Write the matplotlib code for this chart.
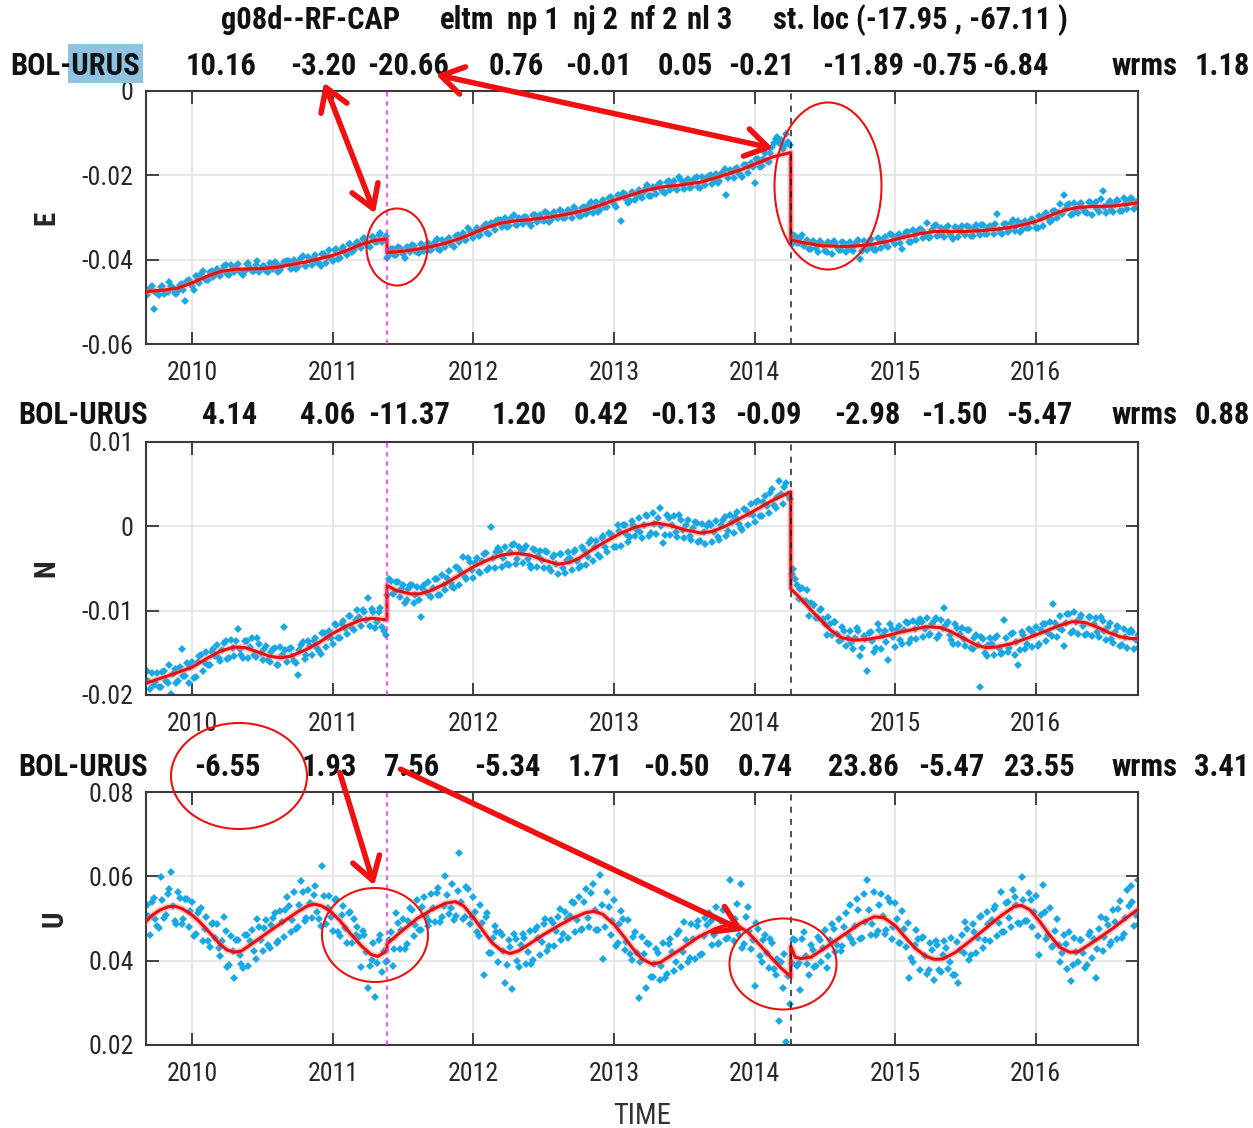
import numpy as np
import matplotlib
matplotlib.use('Agg')
import matplotlib.pyplot as plt
from matplotlib import font_manager as fm
from matplotlib.patches import Ellipse, FancyArrowPatch, Rectangle

W, H = 1253, 1128

# GPS solutions, one sample every 0.025 yr from 2009.675 (mm); a second set sits half a step later
e_obs = [-48.3, -46.9, -51.6, -47.9, -46.6, -48.2, -47.6, -46.2, -47.9, -47.4, -45.8, -49.8, -44.9, -46.3, -43.9, -45.6, -42.8, -44.9, -42.9, -44.1,
         -42.1, -43.9, -41.6, -43.4, -41.2, -42.9, -41.0, -43.1, -42.6, -40.9, -42.8, -41.3, -43.0, -41.5, -42.7, -40.8, -42.3, -41.1, -42.4, -40.6,
         -40.4, -42.2, -40.1, -41.8, -39.7, -41.5, -39.4, -41.2, -38.9, -40.7, -38.6, -40.9, -37.8, -40.4, -37.5, -39.6, -37.1, -38.9, -36.2, -37.8,
         -35.7, -37.3, -34.9, -36.6, -34.6, -35.9, -34.2, -35.8, -34.4, -38.9, -37.4, -38.8, -37.3, -38.6, -36.9, -38.2, -36.8, -38.1, -36.4, -37.9,
         -36.1, -37.8, -35.9, -37.4, -35.4, -37.0, -34.8, -36.6, -34.3, -35.8, -33.6, -35.4, -33.1, -34.8, -32.6, -34.1, -32.0, -33.6, -31.2, -32.9,
         -30.6, -32.3, -30.2, -31.9, -29.9, -31.7, -30.0, -31.5, -29.8, -31.3, -29.4, -31.1, -29.3, -30.8, -28.9, -30.6, -28.7, -30.2, -28.5, -30.1,
         -28.3, -30.1, -27.9, -29.6, -27.8, -29.2, -27.1, -28.9, -26.4, -28.3, -25.8, -27.6, -25.2, -26.9, -24.6, -30.8, -24.4, -26.6, -23.9, -25.8,
         -23.5, -25.3, -22.9, -24.8, -22.7, -24.5, -21.8, -23.9, -21.6, -23.4, -21.3, -23.5, -21.1, -23.2, -20.9, -22.8, -20.6, -22.7, -20.4, -22.3,
         -20.1, -22.0, -19.6, -21.4, -19.3, -24.6, -18.7, -20.6, -18.2, -19.9, -17.6, -19.4, -17.0, -21.8, -16.2, -17.9, -14.8, -16.9, -13.2, -11.4,
         -12.3, -13.8, -10.2, -12.9, -34.2, -36.1, -34.9, -36.8, -35.3, -37.4, -35.8, -38.2, -36.0, -37.9, -35.7, -38.6, -36.1, -37.8, -35.9, -38.1,
         -35.7, -38.0, -35.9, -39.8, -35.6, -37.8, -35.2, -37.6, -34.8, -37.2, -34.6, -36.9, -34.2, -36.4, -33.8, -37.5, -33.4, -35.9, -32.9, -35.4,
         -32.8, -34.9, -31.4, -34.6, -32.1, -34.5, -32.4, -34.7, -32.0, -34.4, -32.2, -34.6, -31.9, -34.1, -32.3, -34.5, -31.8, -34.2, -31.7, -34.0,
         -31.9, -33.8, -29.1, -33.6, -31.5, -33.4, -31.2, -33.3, -30.9, -33.0, -30.8, -32.6, -30.3, -32.4, -29.7, -32.0, -28.9, -31.1, -28.4, -30.2,
         -26.9, -24.6, -27.0, -29.3, -26.5, -28.9, -26.6, -28.7, -26.4, -29.4, -26.3, -28.8, -23.6, -28.9, -26.2, -28.7, -25.9, -28.5, -25.3, -28.0,
         -25.4, -27.9, -26.1]
e_obs_b = [-47.2, -46.2, -47.6, -48.4, -46.3, -47.6, -45.4, -46.8, -48.2, -46.0, -47.2, -45.1, -45.6, -47.1, -44.6, -43.5, -44.7, -44.9, -42.8, -43.3,
           -43.6, -42.7, -41.3, -43.7, -42.4, -41.4, -42.6, -43.7, -41.1, -41.9, -42.8, -40.4, -42.3, -41.5, -43.0, -41.5, -40.6, -43.0, -41.5, -40.5,
           -40.3, -41.5, -42.2, -40.4, -39.2, -41.4, -40.1, -39.5, -40.6, -41.5, -38.7, -39.4, -39.7, -37.8, -39.8, -37.8, -38.2, -36.2, -38.1, -36.6,
           -36.2, -35.1, -36.3, -36.9, -34.7, -35.8, -33.6, -35.1, -39.7, -37.5, -38.9, -37.1, -37.8, -39.5, -37.3, -36.5, -37.9, -38.4, -36.5, -37.2,
           -37.6, -36.6, -35.2, -37.7, -36.3, -35.3, -36.2, -37.0, -34.1, -34.6, -35.3, -32.6, -34.2, -33.1, -34.4, -32.7, -31.6, -33.8, -32.0, -30.9,
           -30.5, -31.5, -32.3, -30.5, -29.4, -31.7, -30.5, -29.9, -31.1, -32.1, -29.4, -30.1, -30.5, -28.7, -31.0, -29.2, -29.9, -28.2, -30.2, -29.0,
           -28.7, -27.6, -28.9, -29.7, -27.5, -28.7, -26.3, -27.5, -28.7, -26.3, -27.5, -25.4, -25.9, -27.4, -25.2, -24.3, -25.7, -26.1, -24.1, -24.8,
           -25.0, -23.9, -22.4, -24.8, -23.3, -22.2, -23.2, -24.1, -21.4, -22.1, -23.0, -20.5, -22.3, -21.4, -22.9, -21.4, -20.5, -22.9, -21.4, -20.3,
           -20.0, -21.0, -21.7, -19.8, -18.5, -20.7, -19.3, -18.5, -19.6, -20.4, -17.5, -17.9, -18.1, -16.1, -18.1, -16.1, -16.5, -14.6, -12.4, -10.8,
           -11.6, -13.1, -12.2, -36.4, -34.5, -36.1, -34.2, -35.8, -37.5, -35.5, -37.2, -35.5, -36.5, -38.3, -36.3, -35.6, -37.1, -37.8, -36.1, -37.0,
           -37.4, -36.6, -35.3, -37.9, -36.6, -35.7, -36.9, -37.8, -35.0, -35.6, -36.5, -33.9, -35.6, -34.6, -36.1, -34.5, -33.5, -35.8, -34.2, -33.3,
           -33.0, -34.1, -34.9, -33.0, -31.8, -34.2, -33.1, -32.6, -33.9, -35.0, -32.4, -33.2, -33.7, -32.0, -34.4, -32.6, -33.3, -31.7, -33.8, -32.6,
           -32.5, -31.5, -32.9, -33.8, -31.6, -32.9, -30.7, -32.1, -33.5, -31.2, -32.5, -30.5, -31.0, -32.5, -30.1, -29.1, -30.2, -30.5, -28.4, -29.0,
           -29.2, -28.0, -26.7, -29.2, -27.9, -26.9, -28.0, -29.0, -26.3, -27.1, -28.1, -25.7, -27.6, -26.7, -28.3, -26.9, -26.0, -28.4, -26.9, -25.9,
           -25.7, -26.9, -27.7]

n_obs = [-17.2, -19.3, -18.8, -17.4, -19.1, -17.2, -18.6, -19.9, -16.9, -18.3, -14.5, -17.8, -18.6, -16.1, -17.9, -15.4, -17.2, -14.9, -16.4, -14.6,
         -14.1, -16.0, -13.8, -15.7, -13.5, -15.4, -12.2, -15.3, -13.6, -15.6, -13.3, -15.5, -14.0, -15.9, -14.2, -16.1, -14.6, -16.4, -14.3, -11.9,
         -16.1, -14.4, -16.0, -17.6, -14.1, -15.7, -13.6, -15.2, -13.3, -14.8, -12.7, -14.3, -12.4, -13.9, -11.7, -13.3, -11.2, -12.8, -10.6, -12.3,
         -9.9, -11.8, -10.1, -8.5, -9.8, -12.0, -10.2, -11.9, -12.9, -6.3, -8.0, -6.6, -8.4, -6.9, -8.7, -7.0, -9.1, -7.2, -10.7, -6.9,
         -6.6, -8.4, -6.2, -8.1, -5.8, -7.6, -5.3, -7.2, -4.8, -6.9, -3.6, -6.3, -4.2, -6.1, -3.7, -5.5, -3.3, -5.2, -0.1, -4.9,
         -2.6, -4.8, -2.4, -4.6, -2.2, -4.5, -2.5, -4.3, -2.3, -4.6, -2.7, -4.8, -2.9, -5.0, -3.1, -5.3, -3.4, -5.6, -3.3, -5.5,
         -3.0, -5.2, -2.8, -5.0, -2.4, -4.6, -2.0, -4.1, -1.7, -3.6, -1.1, -3.1, -0.9, -2.5, 0.1, -2.3, 0.2, -1.8, 0.6, -1.2,
         1.0, -1.4, 1.3, -1.1, 1.6, -0.9, 2.2, -2.0, 1.4, -1.0, 1.2, -1.3, 0.8, -1.4, 0.7, -1.6, 0.5, -1.8, 0.3, -2.1,
         0.4, -1.9, 0.6, -1.6, 0.8, -1.2, 1.3, -0.8, 1.7, -0.2, 2.0, 0.1, 2.6, 0.5, 3.0, 1.2, 3.6, 1.6, 4.4, 2.2,
         5.4, 2.6, 5.1, 3.2, -5.1, -6.9, -7.4, -8.8, -7.6, -9.1, -9.3, -10.9, -9.8, -11.6, -10.7, -12.9, -11.4, -13.6, -11.9, -14.2,
         -12.4, -14.6, -12.1, -15.4, -13.0, -17.2, -12.5, -14.9, -11.6, -14.6, -12.4, -15.9, -12.2, -14.3, -11.8, -13.9, -11.4, -13.8, -11.2, -13.4,
         -11.0, -13.1, -10.9, -12.8, -11.2, -13.3, -11.1, -9.7, -11.4, -13.5, -11.6, -13.9, -12.0, -14.2, -12.3, -14.6, -12.9, -19.0, -13.4, -15.4,
         -13.2, -15.3, -13.0, -15.1, -11.1, -14.9, -12.8, -15.2, -16.4, -12.5, -14.6, -12.2, -14.3, -11.9, -14.0, -11.6, -13.6, -11.3, -9.2, -13.1,
         -10.6, -14.2, -10.4, -12.6, -10.2, -12.8, -10.5, -12.9, -10.7, -13.0, -10.9, -13.1, -11.2, -13.5, -11.5, -13.8, -11.8, -14.2, -12.2, -14.4,
         -12.3, -14.5, -12.9]
n_obs_b = [-18.3, -17.4, -18.5, -19.0, -17.3, -18.3, -16.4, -17.5, -18.6, -16.7, -17.8, -16.2, -16.7, -18.0, -16.1, -15.2, -16.2, -16.5, -14.9, -15.4,
           -15.6, -14.7, -13.6, -15.6, -14.4, -13.6, -14.6, -15.6, -13.6, -14.3, -15.2, -13.3, -15.0, -14.5, -15.9, -14.9, -14.4, -16.5, -15.3, -14.7,
           -14.5, -15.4, -16.2, -14.7, -13.7, -15.3, -14.2, -13.6, -14.4, -15.1, -12.7, -13.1, -13.2, -11.6, -13.3, -11.6, -12.1, -10.6, -12.1, -11.1,
           -10.8, -9.9, -11.1, -11.8, -10.2, -11.3, -9.7, -12.4, -8.1, -6.5, -7.9, -6.6, -7.4, -9.1, -7.45, -6.9, -8.15, -8.7, -7.3, -7.8,
           -8.1, -7.3, -6.2, -8.2, -6.9, -6.1, -6.7, -7.3, -5.0, -5.4, -6.0, -3.8, -5.2, -4.3, -5.4, -4.1, -3.2, -5.0, -3.8, -3.1,
           -2.9, -3.8, -4.5, -3.0, -2.1, -3.9, -3.1, -2.7, -3.9, -4.9, -2.8, -3.5, -4.0, -2.9, -4.9, -3.6, -4.5, -3.3, -4.9, -4.0,
           -3.8, -3.0, -4.1, -4.7, -2.8, -3.6, -1.6, -2.5, -3.4, -1.4, -2.4, -0.8, -1.2, -2.5, -0.6, 0.2, -0.9, -1.3, 0.2, -0.4,
           -0.7, 0.2, 1.2, -0.8, 0.3, 1.0, 0.0, -1.0, 1.0, 0.2, -0.7, 1.3, -0.4, 0.2, -1.2, -0.2, 0.4, -1.7, -0.7, 0.0,
           0.2, -0.7, -1.3, 0.2, 1.1, -0.6, 0.5, 1.1, 0.3, -0.4, 1.9, 1.5, 1.4, 2.9, 1.2, 2.9, 2.4, 3.9, 2.5, 3.5,
           3.8, 4.7, 3.7, -5.6, -6.2, -8.6, -7.3, -8.9, -10.6, -9.3, -10.9, -9.9, -11.0, -12.9, -11.6, -11.4, -12.8, -13.5, -12.4, -13.3,
           -13.8, -13.2, -12.4, -14.4, -13.4, -12.7, -13.6, -14.4, -12.3, -12.9, -13.7, -11.6, -13.1, -12.3, -13.5, -12.3, -11.5, -13.4, -12.2, -11.5,
           -11.3, -12.2, -12.9, -11.6, -10.9, -12.9, -12.0, -11.7, -12.9, -13.9, -12.0, -12.8, -13.4, -12.3, -14.4, -13.2, -14.1, -13.1, -15.0, -14.1,
           -14.0, -13.2, -14.4, -15.0, -13.3, -14.4, -12.6, -13.7, -14.7, -12.9, -13.9, -12.4, -12.8, -14.2, -12.3, -11.6, -12.6, -13.0, -11.5, -12.1,
           -12.3, -11.5, -10.4, -12.4, -11.4, -10.9, -11.8, -12.8, -10.8, -11.6, -12.5, -10.7, -12.4, -11.9, -13.4, -12.5, -11.9, -14.1, -13.1, -12.5,
           -12.5, -13.5, -14.3]

u_obs = [53.1, 46.2, 54.8, 48.3, 59.8, 50.1, 55.7, 61.1, 49.4, 56.3, 48.6, 54.7, 47.9, 53.8, 46.4, 52.1, 44.7, 50.3, 43.2, 48.9,
         48.6, 41.2, 50.3, 38.4, 45.9, 35.9, 44.8, 39.1, 46.2, 38.7, 47.3, 40.5, 48.1, 42.2, 49.6, 43.0, 50.2, 44.1, 51.8, 45.6,
         55.2, 46.8, 56.4, 48.1, 58.9, 49.3, 56.7, 50.2, 57.8, 49.9, 62.4, 48.7, 55.3, 47.1, 54.6, 45.8, 52.9, 44.2, 51.6, 49.8,
         47.9, 38.6, 46.1, 33.6, 40.2, 31.3, 44.8, 37.4, 39.6, 44.9, 38.8, 51.2, 42.7, 49.8, 43.9, 52.6, 45.8, 54.3, 47.2, 55.1,
         48.3, 55.9, 49.1, 57.2, 50.4, 60.1, 51.0, 58.3, 50.6, 65.5, 49.8, 57.4, 48.6, 55.1, 46.9, 53.3, 36.7, 51.2, 41.9, 48.3,
         39.8, 46.2, 34.6, 44.8, 33.2, 45.1, 38.4, 46.3, 39.2, 47.0, 40.1, 47.9, 41.3, 48.6, 42.2, 49.7, 43.4, 50.3, 44.8, 51.6,
         45.3, 53.8, 46.7, 55.2, 47.4, 56.9, 48.0, 58.1, 47.2, 60.2, 40.3, 56.4, 46.1, 54.3, 44.2, 51.8, 42.6, 49.7, 40.1, 46.8,
         31.2, 45.6, 33.4, 43.9, 36.2, 42.8, 35.4, 44.1, 36.9, 45.2, 37.6, 46.3, 38.4, 49.2, 39.7, 48.6, 40.3, 49.5, 41.6, 50.1,
         51.2, 43.6, 52.8, 44.1, 51.9, 45.2, 59.1, 44.6, 53.4, 58.2, 43.9, 52.7, 42.8, 33.9, 47.6, 39.8, 46.1, 38.2, 44.3, 36.7,
         25.6, 33.4, 20.6, 29.8, 45.2, 38.7, 33.1, 46.9, 39.2, 43.8, 38.4, 45.6, 39.7, 47.3, 41.1, 48.6, 42.0, 49.9, 43.4, 51.2,
         53.1, 44.2, 54.6, 45.1, 55.8, 59.1, 46.2, 56.3, 47.1, 55.9, 46.4, 54.8, 45.2, 53.6, 44.1, 51.7, 43.2, 35.9, 39.6, 47.3,
         37.8, 45.6, 36.9, 44.2, 35.4, 43.8, 37.2, 44.6, 38.1, 45.3, 36.7, 34.7, 46.1, 49.2, 40.1, 48.7, 41.8, 50.3, 42.9, 51.6,
         44.6, 52.3, 45.8, 56.4, 46.7, 53.9, 48.1, 55.2, 48.9, 59.8, 49.3, 56.1, 47.9, 55.3, 41.4, 58.0, 45.2, 52.6, 43.4, 49.8,
         39.8, 46.2, 38.1, 35.1, 45.3, 39.6, 44.8, 38.2, 46.1, 40.7, 35.9, 47.6, 42.3, 49.8, 43.6, 51.9, 45.1, 54.2, 46.3, 56.8,
         57.6, 48.3, 59.2]
u_obs_b = [50.6, 53.8, 49.9, 47.7, 54.4, 50.8, 57.0, 53.0, 48.6, 54.8, 49.8, 54.7, 51.7, 45.9, 51.3, 52.6, 47.4, 44.7, 48.8, 45.4,
           43.0, 44.7, 47.1, 38.9, 42.4, 44.8, 41.3, 38.2, 46.2, 44.6, 42.3, 49.9, 44.9, 47.8, 43.7, 48.4, 51.4, 44.6, 49.2, 52.0,
           52.9, 49.7, 47.5, 53.1, 56.3, 50.0, 53.6, 55.5, 51.5, 48.2, 55.4, 52.6, 50.4, 54.4, 46.8, 50.8, 47.7, 51.4, 44.1, 46.2,
           45.5, 47.1, 42.1, 38.7, 44.3, 39.5, 46.0, 42.4, 40.0, 46.8, 42.8, 49.0, 47.2, 42.7, 49.4, 52.0, 48.4, 47.3, 52.7, 50.6,
           49.5, 52.4, 56.1, 49.1, 52.9, 55.6, 52.4, 49.6, 56.5, 53.8, 50.4, 56.9, 50.4, 51.6, 45.9, 48.9, 50.4, 41.9, 45.4, 46.9,
           46.7, 42.3, 38.9, 43.3, 46.4, 40.0, 43.6, 45.3, 42.0, 39.3, 47.3, 45.3, 44.4, 49.8, 43.5, 48.9, 47.1, 52.2, 46.3, 49.8,
           50.6, 53.7, 49.6, 47.2, 53.8, 50.0, 56.0, 51.9, 47.3, 53.3, 48.1, 52.8, 49.5, 43.5, 48.7, 49.8, 44.4, 41.6, 45.5, 41.9,
           39.7, 41.6, 44.2, 36.2, 39.1, 41.9, 38.8, 36.0, 43.9, 42.1, 39.7, 47.1, 42.1, 44.9, 40.6, 45.2, 48.2, 41.3, 45.8, 48.5,
           49.4, 46.2, 43.9, 49.4, 52.3, 45.4, 48.6, 49.9, 46.1, 43.0, 50.4, 47.1, 45.0, 48.9, 41.1, 45.0, 41.7, 45.1, 38.0, 40.3,
           39.8, 41.6, 36.3, 39.5, 45.0, 39.4, 45.1, 41.0, 36.5, 42.6, 38.8, 44.9, 42.9, 38.3, 44.9, 47.4, 43.6, 42.4, 48.0, 46.0,
           45.2, 48.2, 52.0, 45.3, 49.2, 52.0, 48.8, 46.1, 53.1, 50.5, 47.2, 53.8, 47.9, 49.8, 44.2, 47.4, 49.0, 40.7, 43.8, 45.2,
           45.4, 41.2, 37.9, 42.5, 44.6, 37.9, 41.4, 43.0, 39.6, 36.7, 44.5, 42.5, 41.8, 47.4, 41.3, 46.9, 45.3, 50.6, 44.9, 48.6,
           49.6, 52.9, 49.0, 46.8, 53.6, 50.0, 56.7, 53.3, 48.7, 54.4, 49.5, 54.5, 51.6, 45.9, 50.8, 51.5, 46.1, 43.2, 47.0, 43.6,
           41.8, 43.9, 46.8, 39.0, 42.0, 44.8, 41.7, 39.0, 46.9, 45.1, 42.7, 50.4, 45.5, 48.4, 44.4, 49.1, 52.2, 45.4, 50.1, 53.0,
           54.0, 50.9, 48.7]

assert len(set(map(len, [e_obs, n_obs, u_obs, e_obs_b, n_obs_b, u_obs_b]))) == 1
obs_t = 2009.675 + 0.025 * np.arange(len(e_obs))
obs_t_b = obs_t + 0.0125

# fitted trajectory model, knots (mm); a repeated epoch is an offset
e_knot_t = [2009.671, 2009.8, 2009.9, 2010.0, 2010.1, 2010.2, 2010.3, 2010.4, 2010.5, 2010.6, 2010.7, 2010.8, 2010.9,
            2011.0, 2011.1, 2011.2, 2011.3, 2011.385, 2011.385, 2011.5, 2011.6, 2011.7, 2011.8, 2011.9, 2012.0,
            2012.1, 2012.2, 2012.3, 2012.4, 2012.5, 2012.6, 2012.7, 2012.8, 2012.9, 2013.0, 2013.1, 2013.2, 2013.33,
            2013.45, 2013.62, 2013.75, 2013.9, 2014.0, 2014.13, 2014.257, 2014.257, 2014.35, 2014.48, 2014.65, 2014.82,
            2014.95, 2015.05, 2015.18, 2015.28, 2015.4, 2015.51, 2015.62, 2015.74, 2015.85, 2015.95, 2016.03, 2016.12,
            2016.2, 2016.3, 2016.4, 2016.55, 2016.65, 2016.727]
e_knot = [-47.6, -47.2, -46.7, -45.5, -44.0, -42.8, -42.3, -42.2, -42.1, -41.8, -41.2, -40.6, -39.8,
          -39.0, -37.8, -36.4, -35.4, -35.1, -38.3, -38.0, -37.5, -36.9, -36.1, -35.0, -33.7,
          -32.3, -31.3, -30.8, -30.5, -30.1, -29.6, -29.0, -28.2, -27.1, -25.9, -24.9, -23.8, -22.8,
          -22.4, -21.6, -20.3, -18.7, -17.4, -15.6, -14.6, -35.3, -36.0, -36.7, -36.9, -36.5,
          -35.6, -34.8, -33.8, -33.3, -33.3, -33.3, -33.1, -32.7, -32.2, -31.4, -30.6, -29.3,
          -28.3, -27.6, -27.4, -27.3, -26.9, -26.5]

n_knot_t = [2009.671, 2009.85, 2010.0, 2010.1, 2010.2, 2010.3, 2010.38, 2010.45, 2010.55, 2010.63, 2010.7, 2010.8,
            2010.9, 2011.0, 2011.1, 2011.2, 2011.28, 2011.385, 2011.385, 2011.45, 2011.55, 2011.62, 2011.7, 2011.8,
            2011.9, 2012.0, 2012.1, 2012.2, 2012.3, 2012.4, 2012.5, 2012.6, 2012.68, 2012.75, 2012.85, 2012.95,
            2013.05, 2013.15, 2013.3, 2013.4, 2013.5, 2013.62, 2013.7, 2013.79, 2013.96, 2014.13, 2014.257, 2014.257,
            2014.33, 2014.4, 2014.54, 2014.62, 2014.71, 2014.8, 2014.91, 2015.05, 2015.22, 2015.32, 2015.4, 2015.5,
            2015.58, 2015.65, 2015.72, 2015.83, 2015.95, 2016.06, 2016.16, 2016.26, 2016.35, 2016.43, 2016.52, 2016.6,
            2016.67, 2016.727]
n_knot = [-18.6, -17.6, -16.7, -15.7, -14.8, -14.3, -14.4, -14.8, -15.4, -15.6, -15.4, -14.7,
          -13.8, -12.7, -11.8, -11.1, -10.9, -11.1, -7.0, -7.6, -8.0, -8.0, -7.6, -6.8,
          -5.8, -4.8, -4.0, -3.4, -3.2, -3.4, -4.0, -4.5, -4.3, -3.8, -2.7, -1.7,
          -0.8, -0.1, 0.4, 0.1, -0.4, -0.8, -0.6, 0.0, 1.5, 3.1, 4.1, -7.4,
          -8.6, -9.9, -12.3, -13.2, -13.5, -13.4, -13.1, -12.5, -11.9, -12.0, -12.5, -13.4,
          -14.1, -14.4, -14.3, -13.9, -13.2, -12.5, -11.8, -11.3, -11.4, -11.9, -12.6, -13.1,
          -13.3, -13.3]

u_knot_t = [2009.671, 2009.72, 2009.77, 2009.83, 2009.88, 2009.93, 2010.0, 2010.05, 2010.1, 2010.15, 2010.2, 2010.25,
            2010.3, 2010.35, 2010.45, 2010.55, 2010.65, 2010.75, 2010.82, 2010.87, 2010.92, 2010.98, 2011.05, 2011.12,
            2011.2, 2011.27, 2011.32, 2011.385, 2011.385, 2011.5, 2011.6, 2011.7, 2011.8, 2011.87, 2011.93, 2012.0,
            2012.07, 2012.13, 2012.2, 2012.26, 2012.32, 2012.4, 2012.5, 2012.6, 2012.7, 2012.8, 2012.86, 2012.92,
            2013.0, 2013.07, 2013.14, 2013.2, 2013.27, 2013.33, 2013.47, 2013.6, 2013.72, 2013.8, 2013.88, 2013.95,
            2014.03, 2014.1, 2014.18, 2014.257, 2014.257, 2014.29, 2014.33, 2014.4, 2014.5, 2014.62, 2014.75, 2014.85,
            2014.92, 2015.0, 2015.07, 2015.14, 2015.22, 2015.28, 2015.34, 2015.43, 2015.53, 2015.63, 2015.75, 2015.85,
            2015.9, 2015.96, 2016.03, 2016.1, 2016.17, 2016.24, 2016.3, 2016.43, 2016.55, 2016.65, 2016.727]
u_knot = [49.3, 50.9, 52.0, 52.8, 52.9, 52.3, 50.8, 49.3, 47.5, 45.7, 43.8, 42.5,
          42.0, 42.3, 44.6, 47.0, 49.3, 51.6, 53.0, 53.4, 53.0, 51.8, 49.5, 46.6,
          43.6, 41.5, 41.0, 42.4, 44.0, 47.3, 50.0, 52.0, 53.6, 54.0, 53.0, 50.2,
          47.0, 44.3, 42.4, 41.7, 42.3, 44.0, 46.2, 48.2, 50.0, 51.4, 51.7, 51.0,
          48.6, 45.7, 42.6, 40.4, 39.2, 39.6, 42.6, 45.6, 47.6, 48.4, 48.3, 46.8,
          44.0, 41.4, 38.5, 36.2, 43.4, 40.8, 40.5, 40.8, 43.0, 45.8, 48.8, 50.4,
          50.2, 48.3, 45.6, 43.0, 41.0, 40.3, 40.4, 42.0, 44.6, 47.3, 50.6, 52.9,
          53.1, 52.0, 49.2, 46.0, 43.2, 42.0, 42.1, 44.9, 47.7, 50.3, 52.2]

# header rows: fitted parameters printed above each component
e_params = ['10.16', '-3.20', '-20.66', '0.76', '-0.01', '0.05', '-0.21', '-11.89', '-0.75', '-6.84']
n_params = ['4.14', '4.06', '-11.37', '1.20', '0.42', '-0.13', '-0.09', '-2.98', '-1.50', '-5.47']
u_params = ['-6.55', '1.93', '7.56', '-5.34', '1.71', '-0.50', '0.74', '23.86', '-5.47', '23.55']
wrms = ['1.18', '0.88', '3.41']
title_bits = ['g08d--RF-CAP', 'eltm', 'np 1', 'nj 2', 'nf 2', 'nl 3', 'st. loc (-17.95 , -67.11 )']

eq_epoch = 2011.385
eq2_epoch = 2014.257
year_ticks = [2010, 2011, 2012, 2013, 2014, 2015, 2016]


def pick_fonts():
    # a narrow sans (MATLAB-like) if one is installed, else Liberation Sans
    prefs = ['Liberation Sans Narrow', 'Nimbus Sans Narrow', 'Arial Narrow', 'Roboto Condensed',
             'Noto Sans', 'DejaVu Sans', 'Open Sans', 'Lato', 'Inter']
    cands = []
    for f in fm.fontManager.ttflist:
        st = str(f.stretch)
        narrow = 'Narrow' in f.name or 'Condensed' in f.name or st in ('condensed', 'semi-condensed')
        if not narrow or f.style != 'normal' or 'Mono' in f.name or 'CJK' in f.name:
            continue
        w = f.weight if isinstance(f.weight, int) else fm.weight_dict.get(f.weight, 400)
        rank = next((i for i, p in enumerate(prefs) if f.name.startswith(p)), len(prefs))
        cands.append((rank, f, w))
    if cands:
        reg = min(cands, key=lambda c: (c[0], abs(c[2] - 400)))
        same = [c for c in cands if c[1].name == reg[1].name and str(c[1].stretch) == str(reg[1].stretch)]
        bold = min(same, key=lambda c: abs(c[2] - 700))
        if bold[2] >= 600:
            return fm.FontProperties(fname=reg[1].fname), fm.FontProperties(fname=bold[1].fname)
    return (fm.FontProperties(family=['Liberation Sans', 'DejaVu Sans']),
            fm.FontProperties(family=['Liberation Sans', 'DejaVu Sans'], weight='bold'))


FR, FB = pick_fonts()


def font(size, bold=False):
    p = (FB if bold else FR).copy()
    p.set_size(size)
    return p


def px(x, y):
    return x / W, 1 - y / H


fig = plt.figure(figsize=(W / 100, H / 100), dpi=100)
renderer = fig.canvas.get_renderer()


def fit_size(s, target_w, bold, cap):
    t = fig.text(0, 0, s, fontproperties=font(10, bold))
    w = t.get_window_extent(renderer).width
    t.remove()
    return min(cap, 10 * target_w / w)


tick_fs = fit_size('-0.02', 51, False, 19.5)
hdr_fs = fit_size('BOL-URUS', 131, True, 22)
time_fs = fit_size('TIME', 58, False, 22)

panels = [
    ('E', [e_obs, e_obs_b], e_knot_t, e_knot, (-0.06, 0.0), [0, -0.02, -0.04, -0.06], ['0', '-0.02', '-0.04', '-0.06'], 91, 60),
    ('N', [n_obs, n_obs_b], n_knot_t, n_knot, (-0.02, 0.01), [0.01, 0, -0.01, -0.02], ['0.01', '0', '-0.01', '-0.02'], 442, 60),
    ('U', [u_obs, u_obs_b], u_knot_t, u_knot, (0.02, 0.08), [0.02, 0.04, 0.06, 0.08], ['0.02', '0.04', '0.06', '0.08'], 792, 68),
]
for name, obs, kt, kv, ylim, yt, ytl, top, labx in panels:
    l, t = px(146, top)
    ax = fig.add_axes([l, t - 253 / H, 992 / W, 253 / H])
    ax.set_axisbelow(True)
    ax.grid(True, color='#e3e3e3', lw=1.2)
    for tt, vv in zip([obs_t, obs_t_b], obs):
        ax.plot(tt, np.array(vv) / 1000, 'D', ms=4.4, mew=0, color='#18a8e4', zorder=2)
    ax.plot(kt, np.array(kv) / 1000, color='#ff6a6a', lw=5, alpha=0.35, zorder=3)
    ax.plot(kt, np.array(kv) / 1000, color='#ea0f0f', lw=2.2, zorder=4)
    ax.axvline(eq_epoch, color='#ff22ff', lw=1.1, dashes=(3, 3), zorder=5)
    ax.axvline(eq2_epoch, color='#222222', lw=1.1, dashes=(4, 4), zorder=5)
    ax.set_xlim(2009.671, 2016.727)
    ax.set_ylim(*ylim)
    ax.set_xticks(year_ticks)
    ax.set_xticklabels([str(y) for y in year_ticks])
    ax.set_yticks(yt)
    ax.set_yticklabels(ytl)
    ax.tick_params(direction='in', length=9, width=1.2, top=True, right=True, colors='#262626', pad=9)
    ax.tick_params(axis='x', pad=12)
    for lab in ax.get_xticklabels() + ax.get_yticklabels():
        lab.set_fontproperties(font(tick_fs))
    for s in ax.spines.values():
        s.set_color('#3a3a3a')
        s.set_linewidth(1.5)
    ax.set_ylabel(name, fontproperties=font(hdr_fs * 0.95, True), color='#262626')
    ax.yaxis.set_label_coords((labx - 146) / 992, 0.5)

fig.text(*px(642, 1116), 'TIME', fontproperties=font(time_fs), color='#333333', ha='center', va='center')

# title line
hdr = dict(fontproperties=font(hdr_fs, True), color='#111111', va='center')
for x0, s in zip([221, 440, 507, 573, 630, 687, 773], title_bits):
    fig.text(*px(x0, 20), s, ha='left', **hdr)

# parameter rows
rows = [
    (66, 10, e_params, [221, 323, 408, 516, 598, 685, 761, 863, 944, 1015], wrms[0]),
    (415, 18, n_params, [230, 328, 409, 519, 601, 683, 768, 867, 954, 1039], wrms[1]),
    (767, 18, u_params, [227, 329, 412, 507, 595, 676, 765, 863, 951, 1039], wrms[2]),
]
fig.patches.append(Rectangle(px(68, 83), 75 / W, 39 / H, transform=fig.transFigure,
                             facecolor='#8ec4e2', edgecolor='none', zorder=0.5))
for y, x0, vals, xs, w in rows:
    fig.text(*px(x0, y), 'BOL-URUS', ha='left', **hdr)
    for xc, v in zip(xs, vals):
        fig.text(*px(xc, y), v, ha='center', **hdr)
    fig.text(*px(1145, y), 'wrms', ha='center', **hdr)
    fig.text(*px(1222, y), w, ha='center', **hdr)

# red markup: ellipses and arrows
for cx, cy, ew, eh in [(397, 247, 61, 77), (828, 186, 107, 167), (239, 776, 136, 106),
                       (375, 935, 106, 94), (783, 964, 107, 91)]:
    fig.patches.append(Ellipse(px(cx, cy), ew / W, eh / H, transform=fig.transFigure,
                               fill=False, edgecolor='#ee1111', lw=1.5, zorder=6))

for (x1, y1), (x2, y2), style in [((323, 80), (376, 216), '<->'), ((433, 74), (776, 149), '<->'),
                                  ((339, 770), (375, 888), '->'), ((398, 768), (746, 932), '->')]:
    fig.patches.append(FancyArrowPatch(px(x1, y1), px(x2, y2), transform=fig.transFigure,
                                       arrowstyle=style + ',head_length=0.8,head_width=0.5',
                                       mutation_scale=20, color='#f01010', lw=4, zorder=7))

fig.savefig('out.png', dpi=100)
